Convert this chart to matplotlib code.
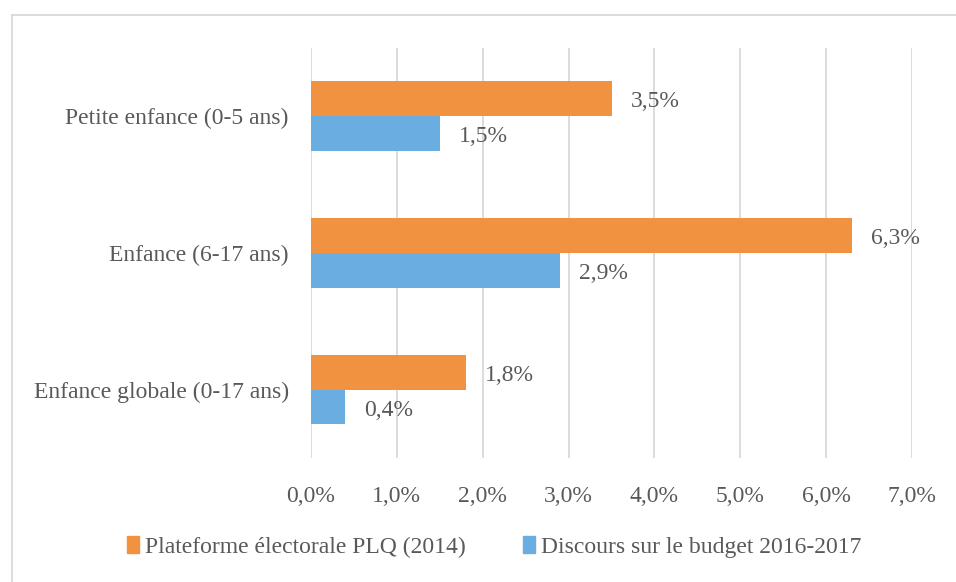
import matplotlib.pyplot as plt
import numpy as np
from matplotlib.lines import Line2D
from matplotlib.patches import Patch

categories = ["Petite enfance (0-5 ans)", "Enfance (6-17 ans)", "Enfance globale (0-17 ans)"]
plq_2014 = [3.5, 6.3, 1.8]
budget_2016 = [1.5, 2.9, 0.4]
series_names = ["Plateforme électorale PLQ (2014)", "Discours sur le budget 2016-2017"]
xticks = [0, 1, 2, 3, 4, 5, 6, 7]

orange = "#F19240"
blue = "#6AADE0"
text_col = "#595959"
grid_col = "#D9D9D9"
fs = 17

plt.rcParams['font.family'] = ['Liberation Serif', 'DejaVu Serif']

def pct(v):
    return f"{v:.1f}%".replace(".", ",")

fig = plt.figure(figsize=(9.56, 5.82), dpi=100)
ax = fig.add_axes([0.3253, 0.2131, 0.954 - 0.3253, 0.9175 - 0.2131])

y = np.arange(len(categories))
h = 0.255
ax.barh(y - h / 2, plq_2014, height=h, color=orange, zorder=3)
ax.barh(y + h / 2, budget_2016, height=h, color=blue, zorder=3)

for yi, v in zip(y, plq_2014):
    ax.annotate(pct(v), (v, yi - h / 2), xytext=(19, -3), textcoords="offset pixels",
                va="center", ha="left", fontsize=fs, color=text_col)
for yi, v in zip(y, budget_2016):
    ax.annotate(pct(v), (v, yi + h / 2), xytext=(19, -3), textcoords="offset pixels",
                va="center", ha="left", fontsize=fs, color=text_col)

ax.set_xlim(0, 7)
ax.set_ylim(2.5, -0.5)
ax.set_xticks(xticks)
ax.set_xticklabels([pct(t) for t in xticks], fontsize=fs, color=text_col)
ax.set_yticks(y)
ax.set_yticklabels(categories, fontsize=fs, color=text_col)
ax.tick_params(axis="both", length=0)
ax.tick_params(axis="x", pad=20)
ax.tick_params(axis="y", pad=16)
ax.grid(axis="x", color=grid_col, linewidth=1.3, zorder=0)
for s in ax.spines.values():
    s.set_visible(False)

# outer frame, only top and left edges visible in the crop
bx, by = 11.5 / 956, 1 - 14.5 / 582
fig.lines.append(Line2D([bx, 1], [by, by], transform=fig.transFigure, color=grid_col, linewidth=1.3))
fig.lines.append(Line2D([bx, bx], [0, by], transform=fig.transFigure, color=grid_col, linewidth=1.3))

handles = [Patch(color=orange), Patch(color=blue)]
fig.legend(handles, series_names, loc="center", bbox_to_anchor=(0.517, 1 - 547 / 582), ncol=2,
           frameon=False, fontsize=fs, labelcolor=text_col, handlelength=0.52, handleheight=0.75,
           handletextpad=0.25, columnspacing=2.42)

fig.savefig("out.png", dpi=100)
